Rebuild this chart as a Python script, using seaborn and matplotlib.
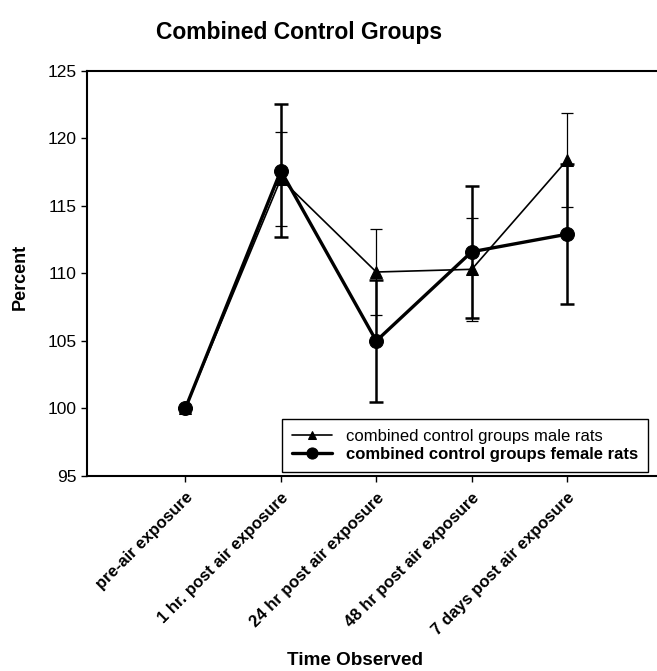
import pandas as pd
import seaborn as sns
import matplotlib.pyplot as plt

times = ['pre-air exposure', '1 hr. post air exposure', '24 hr post air exposure',
         '48 hr post air exposure', '7 days post air exposure']
male_mean = [100.0, 117.0, 110.1, 110.3, 118.4]
male_err = [0.0, 3.5, 3.2, 3.8, 3.5]
female_mean = [100.0, 117.6, 105.0, 111.6, 112.9]
female_err = [0.0, 4.9, 4.5, 4.9, 5.2]
y_ticks = [95, 100, 105, 110, 115, 120, 125]

male_label = 'combined control groups male rats'
female_label = 'combined control groups female rats'

df = pd.DataFrame({
    'time': times * 2,
    'pos': list(range(len(times))) * 2,
    'percent': male_mean + female_mean,
    'err': male_err + female_err,
    'group': [male_label] * len(times) + [female_label] * len(times),
})

sns.set_style('white')
plt.rcParams['font.family'] = ['Liberation Sans', 'DejaVu Sans']
plt.rcParams['text.color'] = 'black'
plt.rcParams['axes.labelcolor'] = 'black'
plt.rcParams['xtick.color'] = 'black'
plt.rcParams['ytick.color'] = 'black'

fig = plt.figure(figsize=(6.57, 6.71), dpi=100)
ax = fig.add_axes([0.1324, 0.2906, 0.8676, 0.604])

# error bars first, lines and markers on top
male = df[df['group'] == male_label]
female = df[df['group'] == female_label]
ax.errorbar(male['pos'], male['percent'], yerr=male['err'], fmt='none',
            ecolor='black', elinewidth=0.9, capsize=4, capthick=0.9, zorder=2)
ax.errorbar(female['pos'], female['percent'], yerr=female['err'], fmt='none',
            ecolor='black', elinewidth=1.8, capsize=5, capthick=1.8, zorder=2)

sns.lineplot(data=male, x='pos', y='percent', color='black', linewidth=1.2,
             marker='^', markersize=8, markeredgecolor='black',
             label=male_label, ax=ax, zorder=3)
sns.lineplot(data=female, x='pos', y='percent', color='black', linewidth=2.4,
             marker='o', markersize=10, markeredgecolor='black',
             label=female_label, ax=ax, zorder=4)

ax.set_xlim(-1.03, 4.94)
ax.set_ylim(95, 125)
ax.set_yticks(y_ticks)
ax.set_yticklabels([str(v) for v in y_ticks], fontsize=12.5)
ax.set_xticks(range(len(times)))
ax.set_xticklabels(times, rotation=45, ha='right', rotation_mode='anchor',
                   fontsize=12, fontweight='bold')
ax.tick_params(axis='both', direction='out', length=4, width=1, color='black',
               left=True, bottom=True)
ax.tick_params(axis='x', pad=6)

for side in ['left', 'top', 'bottom']:
    ax.spines[side].set_visible(True)
    ax.spines[side].set_color('black')
    ax.spines[side].set_linewidth(1.5)
ax.spines['right'].set_visible(False)

ax.set_xlabel('')
ax.set_ylabel('')
fig.text(0.455, 0.952, 'Combined Control Groups', ha='center', va='center',
         fontsize=16.5, fontweight='bold')
fig.text(0.540, 0.015, 'Time Observed', ha='center', va='center',
         fontsize=13.6, fontweight='bold')
fig.text(0.031, 0.587, 'Percent', ha='center', va='center', rotation=90,
         fontsize=13, fontweight='bold')

leg = ax.legend(loc='lower right', bbox_to_anchor=(0.984, 0.01), borderaxespad=0,
                fontsize=12, handlelength=2.4, frameon=True, fancybox=False,
                edgecolor='black', framealpha=1, borderpad=0.6, labelspacing=0.2,
                markerscale=0.8)
leg.get_frame().set_linewidth(1.0)
leg.get_texts()[1].set_fontweight('bold')

fig.savefig('out.png', dpi=100)
